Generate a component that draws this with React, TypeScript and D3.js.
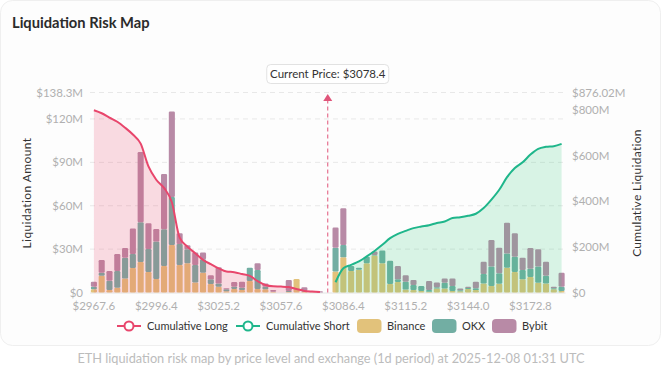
import { area, curveMonotoneX, line, scaleBand, scaleLinear, stack } from 'd3';

const priceLevels = [
  '2967.6', '2971.2', '2974.8', '2978.4', '2982.0', '2985.6', '2989.2', '2992.8', '2996.4', '3000.0',
  '3003.6', '3007.2', '3010.8', '3014.4', '3018.0', '3021.6', '3025.2', '3028.8', '3032.4', '3036.0',
  '3039.6', '3043.2', '3046.8', '3050.4', '3057.6', '3061.2', '3064.8', '3068.4', '3072.0', '3075.6',
  '3078.4',
  '3082.8', '3086.4', '3090.0', '3093.6', '3097.2', '3100.8', '3104.4', '3108.0', '3111.6', '3115.2',
  '3118.8', '3122.4', '3126.0', '3129.6', '3133.2', '3136.8', '3140.4', '3144.0', '3147.6', '3151.2',
  '3154.8', '3158.4', '3162.0', '3165.6', '3169.2', '3172.8', '3176.4', '3180.0', '3183.6', '3187.2',
];

// liquidation amount per level, $M
const binance = [
  2.2, 11.6, 1.7, 3.3, 9.6, 17.0, 21.1, 14.2, 9.3, 18.3, 32.9, 19.0, 20.2, 7.0, 13.7, 5.9, 4.0, 0.8, 2.4, 1.7,
  8.0, 2.4, 2.2, 0.3, 0, 0.3, 9.3, 0.5, 0.1, 0,
  0,
  14.6, 24.3, 14.9, 15.8, 20.2, 25.5, 20.2, 5.9, 7.3, 2.0, 1.7, 1.0, 0.5, 2.7, 2.7, 1.0, 0.8, 2.4, 1.7, 6.3,
  4.5, 6.1, 17.2, 14.2, 9.1, 10.7, 6.8, 6.3, 2.2, 1.0,
];
const okx = [
  1.8, 2.1, 6.5, 11.6, 14.5, 9.6, 27.5, 15.9, 25.9, 25.4, 33.2, 14.6, 9.7, 12.0, 9.3, 3.2, 2.3, 1.4, 1.6, 1.6,
  9.2, 13.2, 1.8, 0.3, 0, 0.8, 0, 0.5, 0.1, 0,
  0,
  16.4, 8.6, 3.4, 1.4, 4.6, 0.5, 8.8, 16.1, 1.8, 5.5, 3.5, 3.5, 1.2, 0.9, 4.1, 3.5, 0.7, 0.7, 1.2, 6.5,
  13.4, 7.2, 9.7, 10.6, 6.5, 5.8, 11.1, 5.3, 0.7, 3.0,
];
const bybit = [
  3.5, 8.8, 6.7, 11.7, 6.7, 17.6, 48.6, 17.8, 8.7, 38.3, 59.0, 7.3, 2.7, 8.6, 4.6, 2.8, 11.1, 0.7, 3.3, 4.2,
  0, 4.6, 2.3, 1.1, 0, 7.6, 0, 2.6, 0, 0.8,
  0,
  13.9, 25.3, 0, 0, 0, 2.3, 0, 0, 9.2, 4.4, 3.5, 0, 6.3, 3.4, 2.8, 5.1, 1.2, 0.9, 4.6, 8.5,
  18.4, 17.7, 21.4, 16.1, 8.5, 14.3, 12.0, 9.7, 1.1, 9.7,
];

// cumulative liquidation, $M
const longLevels = priceLevels.slice(0, 30);
const cumulativeLong = [
  798, 785, 766, 748, 722, 692, 652, 552, 494, 458, 395, 240, 201, 172, 143, 124, 106, 92, 89, 81,
  73, 50, 33, 27, 26, 24, 15, 7, 4, 2,
];
const shortLevels = priceLevels.slice(31);
const cumulativeShort = [
  45, 106, 121, 136, 158, 182, 209, 238, 257, 270, 282, 289, 295, 304, 311, 326, 330, 336, 345, 370,
  407, 450, 505, 545, 570, 604, 629, 638, 641, 651,
];

const currentPrice = '3078.4';
const leftTicks = [0, 30, 60, 90, 120, 138.3];
const rightTicks = [0, 200, 400, 600, 800, 876.02];

const exchanges = ['binance', 'okx', 'bybit'] as const;
const exchangeColors = { binance: '#e2c27b', okx: '#72aea3', bybit: '#b88aa6' };
const longColor = '#e8466c';
const shortColor = '#1fb68b';

const width = 662;
const height = 386;
const plot = { left: 90, right: 565.5, top: 92.5, bottom: 292.5 };

const legendItems = [
  { label: 'Cumulative Long', color: longColor, kind: 'line', x: 117 },
  { label: 'Cumulative Short', color: shortColor, kind: 'line', x: 236 },
  { label: 'Binance', color: exchangeColors.binance, kind: 'box', x: 357 },
  { label: 'OKX', color: exchangeColors.okx, kind: 'box', x: 432 },
  { label: 'Bybit', color: exchangeColors.bybit, kind: 'box', x: 492 },
];

const money = (v: number) => (v === 0 ? '$0' : `$${v}M`);

export default function App() {
  const xScale = scaleBand<string>()
    .domain(priceLevels)
    .range([plot.left, plot.right])
    .paddingInner(0.22)
    .paddingOuter(0.11);
  const center = (level: string) => (xScale(level) ?? 0) + xScale.bandwidth() / 2;

  const yLeft = scaleLinear().domain([0, 138.3]).range([plot.bottom, plot.top]);
  const yRight = scaleLinear().domain([0, 876.02]).range([plot.bottom, plot.top]);

  const rows = priceLevels.map((level, i) => ({ level, binance: binance[i], okx: okx[i], bybit: bybit[i] }));
  const layers = stack<(typeof rows)[number]>().keys([...exchanges])(rows);

  const longLine = line<number>().x((_, i) => center(longLevels[i])).y(d => yRight(d)).curve(curveMonotoneX);
  const longArea = area<number>().x((_, i) => center(longLevels[i])).y0(plot.bottom).y1(d => yRight(d)).curve(curveMonotoneX);
  const shortLine = line<number>().x((_, i) => center(shortLevels[i])).y(d => yRight(d)).curve(curveMonotoneX);
  const shortArea = area<number>().x((_, i) => center(shortLevels[i])).y0(plot.bottom).y1(d => yRight(d)).curve(curveMonotoneX);

  const priceX = center(currentPrice);

  return (
    <svg
      width={width}
      height={height}
      style={{ position: 'absolute', left: 0, top: 0, fontFamily: 'Lato, sans-serif', background: '#ffffff' }}
    >
      <rect x={0.5} y={0.5} width={660} height={345} rx={12} fill="#fdfdfd" stroke="#efefef" />
      <text x={12} y={28} fontSize={14.7} fontWeight={700} fill="#2b2b2b">Liquidation Risk Map</text>

      {leftTicks.filter(t => t > 0).map(tick => (
        <line key={tick} x1={plot.left} x2={plot.right} y1={yLeft(tick)} y2={yLeft(tick)} stroke="#e8e8e8" strokeDasharray="5 4" />
      ))}
      <line x1={plot.left} x2={plot.right} y1={plot.bottom + 0.5} y2={plot.bottom + 0.5} stroke="#e4e4e4" />

      {leftTicks.map(tick => (
        <text key={tick} x={83} y={yLeft(tick) + 4} textAnchor="end" fontSize={11.5} fill="#b0b0b0">{money(tick)}</text>
      ))}
      {rightTicks.map(tick => (
        <text key={tick} x={572} y={yRight(tick) + 4} fontSize={11.5} fill="#b0b0b0">{money(tick)}</text>
      ))}
      {priceLevels.filter((_, i) => i % 8 === 0).map(level => (
        <text key={level} x={center(level)} y={309.5} textAnchor="middle" fontSize={11.5} fill="#b0b0b0">${level}</text>
      ))}

      <text transform="translate(31,193) rotate(-90)" textAnchor="middle" fontSize={12} fill="#333" letterSpacing={0.4}>Liquidation Amount</text>
      <text transform="translate(641,193) rotate(-90)" textAnchor="middle" fontSize={12} fill="#333" letterSpacing={0.3}>Cumulative Liquidation</text>

      {layers.map(layer => (
        <g key={layer.key} fill={exchangeColors[layer.key as keyof typeof exchangeColors]}>
          {layer.map(seg => {
            const h = yLeft(seg[0]) - yLeft(seg[1]);
            if (h <= 0) return null;
            return (
              <rect
                key={seg.data.level}
                x={xScale(seg.data.level)}
                y={yLeft(seg[1])}
                width={xScale.bandwidth()}
                height={h}
                rx={1.2}
              />
            );
          })}
        </g>
      ))}

      <path d={longArea(cumulativeLong) ?? ''} fill={longColor} fillOpacity={0.19} />
      <path d={shortArea(cumulativeShort) ?? ''} fill="#34c77b" fillOpacity={0.18} />
      <path d={longLine(cumulativeLong) ?? ''} fill="none" stroke={longColor} strokeWidth={2} />
      <path d={shortLine(cumulativeShort) ?? ''} fill="none" stroke={shortColor} strokeWidth={2} />

      <line x1={priceX} x2={priceX} y1={plot.bottom} y2={100} stroke="#e0557a" strokeDasharray="4 3" />
      <path d={`M${priceX},94 L${priceX + 4.5},101 L${priceX - 4.5},101 Z`} fill="#e0557a" />
      <rect x={priceX - 61} y={64.5} width={122} height={19} rx={4} fill="#ffffff" stroke="#e2e2e2" />
      <text x={priceX} y={78} textAnchor="middle" fontSize={11.5} fill="#333">Current Price: ${currentPrice}</text>

      {legendItems.map(item => (
        <g key={item.label}>
          {item.kind === 'line' ? (
            <g>
              <line x1={item.x} x2={item.x + 24} y1={326} y2={326} stroke={item.color} strokeWidth={2} />
              <circle cx={item.x + 12} cy={326} r={4.5} fill="#fff" stroke={item.color} strokeWidth={2} />
            </g>
          ) : (
            <rect x={item.x} y={319} width={24.5} height={14} rx={4} fill={item.color} />
          )}
          <text x={item.x + 30} y={330} fontSize={11} fill="#333">{item.label}</text>
        </g>
      ))}

      <text x={331} y={362.5} textAnchor="middle" fontSize={12.75} fill="#bcbcbc">
        ETH liquidation risk map by price level and exchange (1d period) at 2025-12-08 01:31 UTC
      </text>
    </svg>
  );
}
